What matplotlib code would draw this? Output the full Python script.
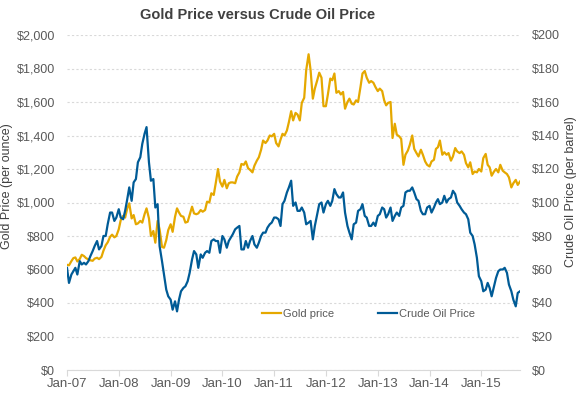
import matplotlib
matplotlib.use('Agg')
import matplotlib.pyplot as plt
import matplotlib.dates as mdates
from matplotlib.ticker import FuncFormatter, MultipleLocator
import pandas as pd

plt.rcParams['font.family'] = ['Liberation Sans', 'DejaVu Sans']

# semi-monthly readings (1st and 15th of each month), Jan 2007 - Oct 2015
gold_2007 = [628, 625, 650, 668, 672, 648, 663, 688, 680, 668, 660, 655, 652, 665, 670, 662, 675, 712, 745, 762, 795, 808, 792, 800]
gold_2008 = [840, 895, 920, 910, 965, 995, 905, 925, 870, 875, 890, 880, 930, 965, 905, 800, 830, 760, 890, 840, 735, 730, 775, 835]
gold_2009 = [870, 825, 915, 965, 940, 920, 915, 880, 885, 925, 975, 935, 930, 935, 955, 945, 955, 1005, 1000, 1055, 1045, 1115, 1200, 1125]
gold_2010 = [1095, 1135, 1085, 1115, 1120, 1120, 1115, 1155, 1180, 1230, 1225, 1245, 1205, 1195, 1180, 1220, 1250, 1270, 1315, 1370, 1355, 1370, 1400, 1395]
gold_2011 = [1410, 1355, 1335, 1375, 1410, 1400, 1430, 1480, 1545, 1490, 1535, 1525, 1490, 1595, 1625, 1790, 1885, 1790, 1620, 1680, 1730, 1775, 1745, 1575]
gold_2012 = [1575, 1645, 1740, 1730, 1770, 1655, 1665, 1645, 1660, 1560, 1600, 1620, 1590, 1585, 1610, 1600, 1690, 1770, 1785, 1745, 1715, 1725, 1715, 1690]
gold_2013 = [1665, 1680, 1665, 1610, 1580, 1595, 1600, 1385, 1470, 1405, 1395, 1380, 1225, 1285, 1310, 1345, 1400, 1320, 1295, 1275, 1315, 1285, 1245, 1225]
gold_2014 = [1215, 1245, 1255, 1320, 1330, 1370, 1285, 1300, 1285, 1295, 1250, 1275, 1325, 1305, 1295, 1305, 1285, 1235, 1210, 1240, 1170, 1185, 1180, 1200]
gold_2015 = [1185, 1265, 1290, 1225, 1210, 1160, 1185, 1200, 1180, 1225, 1190, 1180, 1170, 1150, 1090, 1115, 1135, 1105, 1125]

oil_2007 = [61, 52, 57, 59, 61, 57, 65, 63, 64, 63, 65, 68, 71, 74, 77, 72, 74, 80, 80, 87, 94, 94, 89, 91]
oil_2008 = [96, 91, 90, 95, 102, 109, 101, 112, 114, 124, 127, 135, 141, 145, 124, 113, 114, 97, 99, 74, 65, 57, 48, 44]
oil_2009 = [42, 36, 41, 35, 42, 47, 49, 50, 53, 58, 66, 71, 69, 61, 69, 67, 70, 71, 70, 77, 78, 77, 77, 70]
oil_2010 = [80, 78, 73, 77, 79, 81, 84, 85, 86, 72, 72, 77, 73, 77, 80, 75, 73, 76, 80, 82, 82, 85, 87, 88]
oil_2011 = [91, 91, 90, 86, 99, 101, 106, 109, 113, 98, 100, 95, 95, 97, 94, 87, 88, 89, 78, 86, 93, 99, 100, 94]
oil_2012 = [99, 101, 98, 101, 108, 105, 103, 103, 106, 94, 86, 82, 78, 87, 88, 95, 96, 99, 92, 91, 86, 86, 88, 86]
oil_2013 = [92, 93, 97, 96, 91, 93, 97, 89, 92, 94, 92, 97, 98, 106, 107, 107, 109, 106, 102, 101, 95, 93, 93, 97]
oil_2014 = [98, 94, 97, 100, 102, 99, 100, 104, 100, 102, 103, 107, 105, 100, 98, 96, 94, 93, 90, 82, 80, 75, 67, 56]
oil_2015 = [53, 47, 48, 52, 49, 44, 50, 55, 59, 60, 60, 61, 58, 51, 47, 42, 38, 46, 47]

gold = (gold_2007 + gold_2008 + gold_2009 + gold_2010 + gold_2011 + gold_2012
        + gold_2013 + gold_2014 + gold_2015)
oil = (oil_2007 + oil_2008 + oil_2009 + oil_2010 + oil_2011 + oil_2012
       + oil_2013 + oil_2014 + oil_2015)
dates = pd.date_range('2007-01-01', periods=len(gold), freq='SMS')

gold_col = '#E5A800'
oil_col = '#005B96'
txt_col = '#595959'
grid_col = '#D9D9D9'

fig = plt.figure(figsize=(5.79, 3.95), dpi=100)
ax = fig.add_axes([67/579, 1-370/395, (520-67)/579, (370-35)/395])
ax2 = ax.twinx()

l1, = ax.plot(dates, gold, color=gold_col, lw=1.6, label='Gold price')
l2, = ax2.plot(dates, oil, color=oil_col, lw=1.6, label='Crude Oil Price')

ax.set_ylim(0, 2000)
ax2.set_ylim(0, 200)
ax.yaxis.set_major_locator(MultipleLocator(200))
ax2.yaxis.set_major_locator(MultipleLocator(20))
ax.yaxis.set_major_formatter(FuncFormatter(lambda v, p: '${:,.0f}'.format(v)))
ax2.yaxis.set_major_formatter(FuncFormatter(lambda v, p: '${:,.0f}'.format(v)))

ax.set_xlim(pd.Timestamp('2007-01-01'), pd.Timestamp('2015-10-01'))
ax.xaxis.set_major_locator(mdates.YearLocator())
ax.xaxis.set_major_formatter(mdates.DateFormatter('%b-%y'))

for a in (ax, ax2):
    for s in a.spines.values():
        s.set_visible(False)
ax.spines['bottom'].set_visible(True)
ax.spines['bottom'].set_color(grid_col)

ax.tick_params(axis='y', length=0, labelsize=9, labelcolor=txt_col, pad=8.5)
ax2.tick_params(axis='y', length=0, labelsize=9, labelcolor=txt_col, pad=8.5)
ax.tick_params(axis='x', length=4, color=grid_col, labelsize=9.5, labelcolor=txt_col, pad=2)

ax.grid(axis='y', color=grid_col, linestyle=(0, (2, 2)), linewidth=0.8)
ax.set_axisbelow(True)
for gl in ax.get_ygridlines()[:1]:
    gl.set_visible(False)

fig.text(0.444, 0.962, 'Gold Price versus Crude Oil Price', ha='center', va='center',
         fontsize=10.5, fontweight='bold', color='#404040')
fig.text(0.012, 0.53, 'Gold Price (per ounce)', rotation=90, ha='center', va='center',
         fontsize=9, color='#404040')
fig.text(0.986, 0.516, 'Crude Oil Price (per barrel)', rotation=90, ha='center', va='center',
         fontsize=9, color='#404040')

ax2.legend(handles=[l1, l2], ncol=2, loc='center', bbox_to_anchor=(0.6365, 0.205),
           bbox_transform=fig.transFigure, frameon=False, fontsize=8,
           handlelength=1.7, handletextpad=0.2, columnspacing=4, labelcolor=txt_col)

fig.savefig('out.png', dpi=100)
